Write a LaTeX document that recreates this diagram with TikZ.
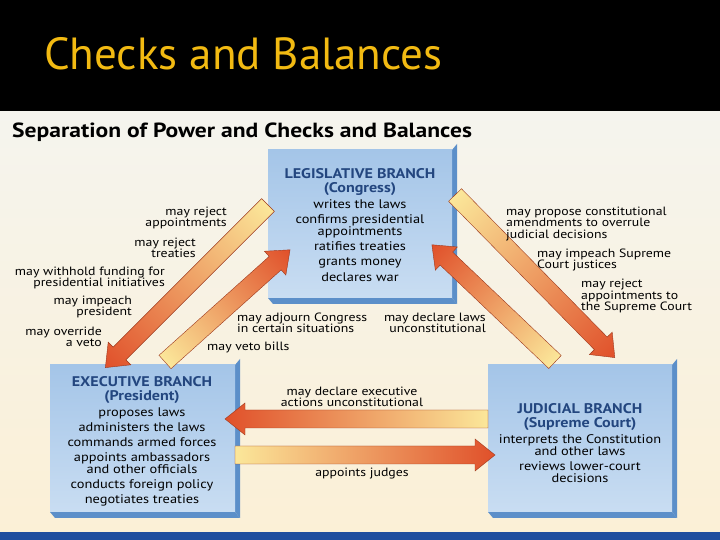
\documentclass[tikz,border=0pt]{standalone}
\usepackage{fontspec}
\setmainfont[FakeStretch=1.15]{PT Sans}
\newfontfamily\titlefont{PT Sans}
\begin{document}
\begin{tikzpicture}[x=1pt,y=1pt,
  lbl/.style={font=\fontsize{12}{11.5}\selectfont, inner sep=0pt},
  boxtxt/.style={font=\fontsize{12.5}{11.8}\selectfont, align=center, inner sep=0pt}]
\definecolor{navy}{HTML}{23467F}
\definecolor{gold}{HTML}{F2BA12}
\definecolor{boxA}{HTML}{A4C5E8}
\definecolor{boxB}{HTML}{C9DDF2}
\definecolor{boxEdge}{HTML}{5C8FC9}
\definecolor{arrY}{HTML}{FBE79A}
\definecolor{arrR}{HTML}{E0502A}
\definecolor{bgTop}{HTML}{F5F4EE}
\definecolor{bgBot}{HTML}{FBF0D6}
\definecolor{strip}{HTML}{1F4E9E}
\newcommand{\myhd}{\color{navy}\bfseries\fontsize{14}{13.5}\selectfont}
\useasboundingbox (0,0) rectangle (720,540);
\fill[black] (0,0) rectangle (720,540);
\shade[top color=bgTop,bottom color=bgBot] (0,8) rectangle (720,428);
\fill[strip] (0,0) rectangle (720,8);
\node[anchor=base west, text=gold, font=\titlefont\fontsize{45}{48}\selectfont, inner sep=0pt] (title) at (44,470) {Checks and Balances};
\node[anchor=west, font=\bfseries\fontsize{20.5}{22}\selectfont, inner sep=0pt] (sub) at (12,408) {Separation of Power and Checks and Balances};
% boxes
\newcommand{\bbox}[5]{%
  \fill[boxEdge] (#1,#2) -- (#3,#2) -- (#3+5,#2-6) -- (#1+5,#2-6) -- cycle;
  \fill[boxEdge] (#3,#2) -- (#3+5,#2-6) -- (#3+5,#4+6) -- (#3,#4) -- cycle;
  \shade[top color=boxA,bottom color=boxB] (#1,#2) rectangle (#3,#4);
  \coordinate (#5) at ({(#1+#3)/2},{(#2+#4)/2});}
\bbox{268}{242}{452}{390}{legbox}
\bbox{50}{28}{235}{175}{exebox}
\bbox{488}{28}{672}{175}{judbox}
\node[boxtxt] (leg) at (360,315) {{\myhd LEGISLATIVE BRANCH}\\[2.5pt]{\myhd (Congress)}\\[3pt]writes the laws\\[3pt]confirms presidential\\appointments\\[3.5pt]ratifies treaties\\[3.5pt]grants money\\[3.5pt]declares war};
\node[boxtxt] (exe) at (142,99) {{\myhd EXECUTIVE BRANCH}\\[2.5pt]{\myhd (President)}\\[3pt]proposes laws\\[3.5pt]administers the laws\\[3.5pt]commands armed forces\\[3pt]appoints ambassadors\\and other officials\\[3pt]conducts foreign policy\\[3pt]negotiates treaties};
\node[boxtxt] (jud) at (580,97) {{\myhd JUDICIAL BRANCH}\\[2.5pt]{\myhd (Supreme Court)}\\[3pt]interprets the Constitution\\and other laws\\[3pt]reviews lower-court\\decisions};
% arrows
\newcommand{\farrow}[5]{%
  \begin{scope}[transform canvas={shift={(#1pt,#2pt)},rotate=#3}]
  \shade[left color=arrY,right color=arrR,draw=arrR!70!black,line width=0.4pt]
    (0,-9) -- (#4-20,-9) -- (#4-20,-16) -- (#4,0) -- (#4-20,16) -- (#4-20,9) -- (0,9) -- cycle;
  \end{scope}
  \coordinate (#5) at (#1,#2);}
\farrow{268}{335}{225}{230}{a1}
\farrow{165}{178}{41.9}{168}{a2}
\farrow{455}{345}{-45.5}{228}{a3}
\farrow{555}{178}{136.4}{170}{a4}
\farrow{488}{121}{180}{263}{a5}
\farrow{235}{85}{0}{260}{a6}
% labels
\node[lbl,anchor=east,align=right] (l1) at (227,322) {may reject\\appointments};
\node[lbl,anchor=east,align=right] (l2) at (196,292) {may reject\\treaties};
\node[lbl,anchor=east,align=right] (l3) at (165,262) {may withhold funding for\\presidential initiatives};
\node[lbl,anchor=east,align=right] (l4) at (132,233) {may impeach\\president};
\node[lbl,anchor=east,align=right] (l5) at (102,203) {may override\\a veto};
\node[lbl,anchor=west,align=left] (l6) at (237,217) {may adjourn Congress\\in certain situations};
\node[lbl,anchor=west] (l7) at (207,193) {may veto bills};
\node[lbl,anchor=east,align=right] (l8) at (486,217) {may declare laws\\unconstitutional};
\node[lbl,anchor=west,align=left] (r1) at (506,316) {may propose constitutional\\amendments to overrule\\judicial decisions};
\node[lbl,anchor=west,align=left] (r2) at (537,280) {may impeach Supreme\\Court justices};
\node[lbl,anchor=west,align=left] (r3) at (581,244) {may reject\\appointments to\\the Supreme Court};
\node[lbl,align=center] (h1) at (352,143) {may declare executive\\actions unconstitutional};
\node[lbl] (h2) at (362,66) {appoints judges};
\end{tikzpicture}
\end{document}
